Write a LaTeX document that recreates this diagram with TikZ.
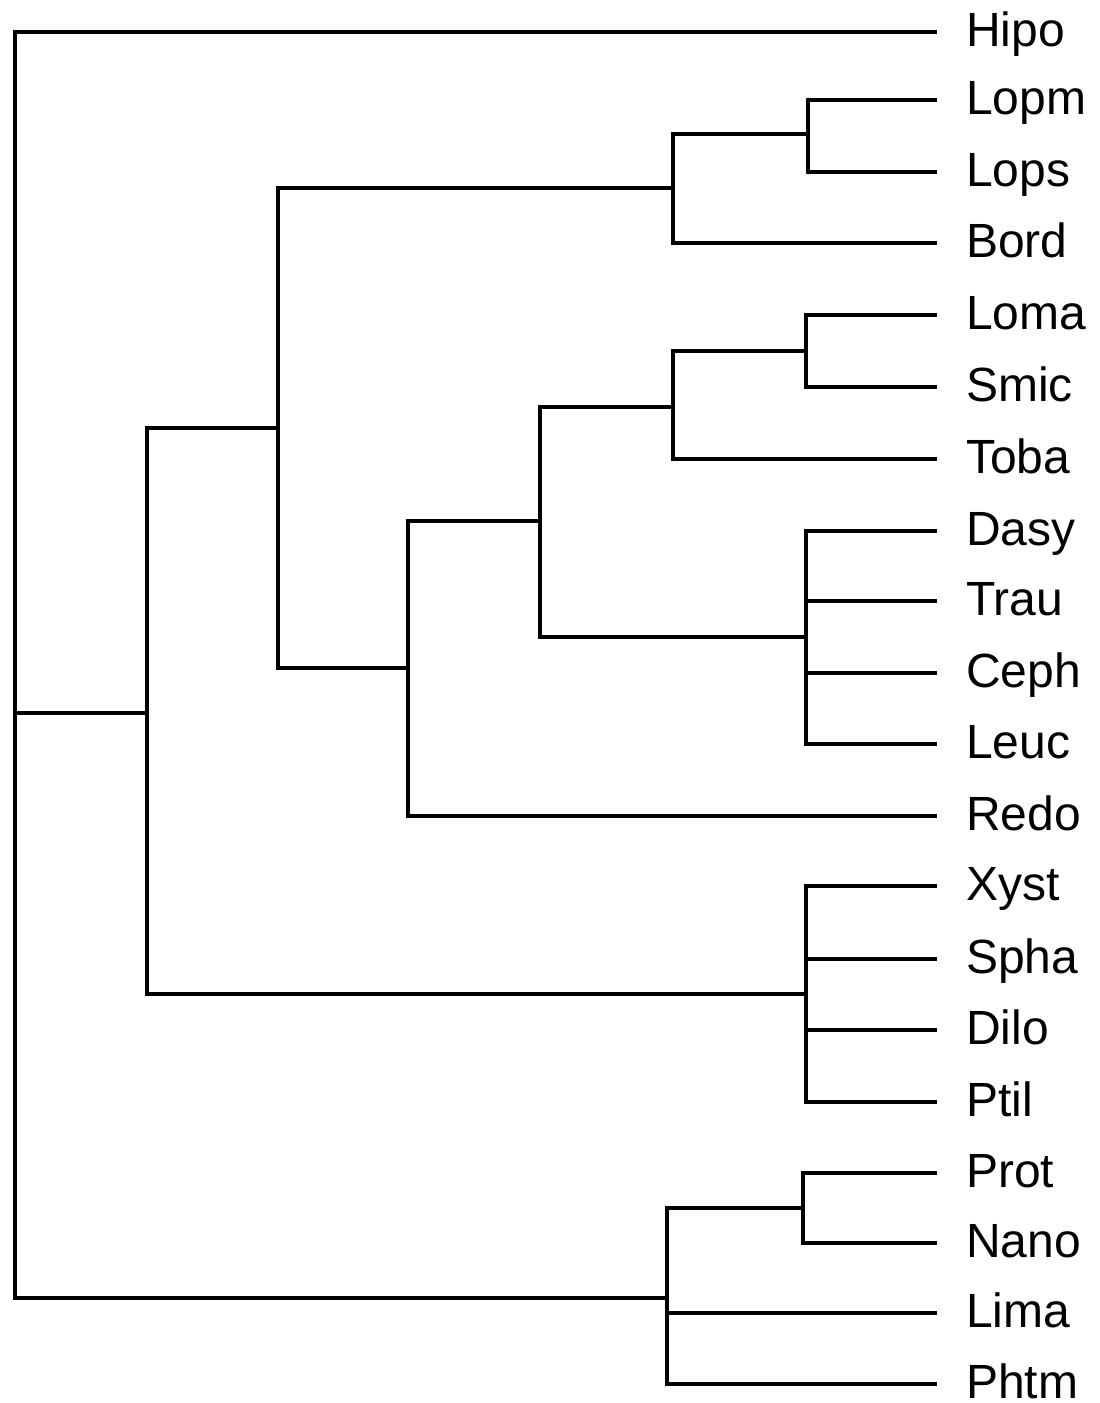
\documentclass[tikz,border=0pt]{standalone}
\usepackage{fontspec}
\setmainfont{Liberation Sans}
\begin{document}
\begin{tikzpicture}[x=1pt,y=-1pt,
  edge/.style={line width=3.2pt,line join=miter},
  leaf/.style={anchor=base west,inner sep=0pt,font=\fontsize{48}{56}\selectfont}]
\useasboundingbox (0,0) rectangle (1100,1403);
% leaves: line ends and labels
\foreach \n/\y in {Hipo/32,Lopm/100,Lops/172,Bord/243,Loma/315,Smic/387,Toba/459,Dasy/531,Trau/601,Ceph/673,Leuc/744,Redo/816,Xyst/886,Spha/959,Dilo/1030,Ptil/1102,Prot/1173,Nano/1243,Lima/1313,Phtm/1384}{
  \coordinate (t\n) at (937,\y);
  \node[leaf] (\n) at (966,\y+14) {\n};
}
% internal nodes
\coordinate (r) at (15,713);
\coordinate (n1) at (147,713);
\coordinate (n2) at (278,428);
\coordinate (n3) at (673,188);
\coordinate (n4) at (808,134);
\coordinate (n5) at (408,668);
\coordinate (n6) at (540,521);
\coordinate (n7) at (673,407);
\coordinate (n8) at (806,351);
\coordinate (n9) at (806,637);
\coordinate (n10) at (806,994);
\coordinate (n11) at (667,1298);
\coordinate (n12) at (803,1208);
% edges
\draw[edge] (r) |- (tHipo);
\draw[edge] (r) |- (n1);
\draw[edge] (r) |- (n11);
\draw[edge] (n1) |- (n2);
\draw[edge] (n1) |- (n10);
\draw[edge] (n2) |- (n3);
\draw[edge] (n2) |- (n5);
\draw[edge] (n3) |- (n4);
\draw[edge] (n3) |- (tBord);
\draw[edge] (n4) |- (tLopm);
\draw[edge] (n4) |- (tLops);
\draw[edge] (n5) |- (n6);
\draw[edge] (n5) |- (tRedo);
\draw[edge] (n6) |- (n7);
\draw[edge] (n6) |- (n9);
\draw[edge] (n7) |- (n8);
\draw[edge] (n7) |- (tToba);
\draw[edge] (n8) |- (tLoma);
\draw[edge] (n8) |- (tSmic);
\draw[edge] (n9) |- (tDasy);
\draw[edge] (n9) |- (tTrau);
\draw[edge] (n9) |- (tCeph);
\draw[edge] (n9) |- (tLeuc);
\draw[edge] (n10) |- (tXyst);
\draw[edge] (n10) |- (tSpha);
\draw[edge] (n10) |- (tDilo);
\draw[edge] (n10) |- (tPtil);
\draw[edge] (n11) |- (n12);
\draw[edge] (n11) |- (tLima);
\draw[edge] (n11) |- (tPhtm);
\draw[edge] (n12) |- (tProt);
\draw[edge] (n12) |- (tNano);
\end{tikzpicture}
\end{document}
